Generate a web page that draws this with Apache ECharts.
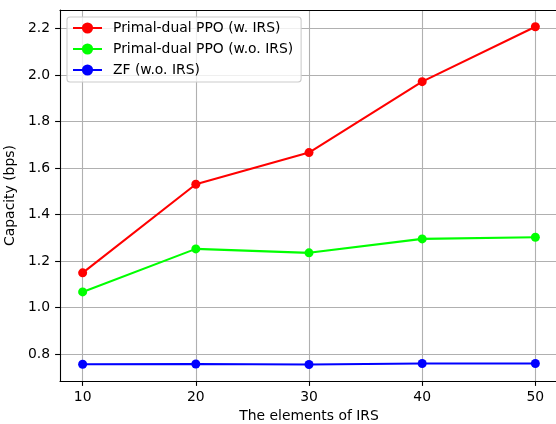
<!DOCTYPE html>
<html><head><meta charset="utf-8">
<script src="https://cdn.jsdelivr.net/npm/echarts@6/dist/echarts.min.js"></script>
<style>html,body{margin:0;padding:0;background:#fff;overflow:hidden}#c{width:556px;height:424px}</style>
</head><body><div id="c"></div>
<script>
const categories = [10, 20, 30, 40, 50];
const ppoIRS = [1.150, 1.531, 1.667, 1.972, 2.208];
const ppoNoIRS = [1.068, 1.253, 1.236, 1.296, 1.303];
const zfNoIRS = [0.757, 0.758, 0.756, 0.760, 0.760];
const xTicks = [10, 20, 30, 40, 50];
const yTicks = [0.8, 1.0, 1.2, 1.4, 1.6, 1.8, 2.0, 2.2];
const names = ['Primal-dual PPO (w. IRS)', 'Primal-dual PPO (w.o. IRS)', 'ZF (w.o. IRS)'];
const colors = ['#ff0000', '#00ff00', '#0000ff'];
const allSeries = [ppoIRS, ppoNoIRS, zfNoIRS];

const FONT = 'DejaVu Sans';
const FS = 13.9;
const chart = echarts.init(document.getElementById('c'), null, {renderer: 'canvas'});
chart.setOption({
  animation: false,
  textStyle: {fontFamily: FONT},
  grid: {left: 60, top: 10, width: 498, height: 371, containLabel: false, outerBoundsMode: 'none', show: false},
  legend: {
    orient: 'vertical', left: 67, top: 17,
    padding: [4, 8, 5, 5],
    itemWidth: 29, itemHeight: 14, itemGap: 7,
    backgroundColor: 'rgba(255,255,255,0.8)',
    borderColor: '#cccccc', borderWidth: 1.1, borderRadius: 3,
    textStyle: {fontFamily: FONT, fontSize: FS, color: '#000', padding: [0, 0, 0, 6]},
    data: names
  },
  xAxis: [{
    type: 'value', min: 8, max: 52,
    name: 'The elements of IRS', nameLocation: 'middle', nameGap: 25,
    nameTextStyle: {fontFamily: FONT, fontSize: FS, color: '#000'},
    axisLine: {show: true, lineStyle: {color: '#000', width: 1.1}},
    axisTick: {show: true, customValues: xTicks, length: 4.9, lineStyle: {color: '#000', width: 1.1}},
    axisLabel: {customValues: xTicks, margin: 9, fontFamily: FONT, fontSize: FS, color: '#000'},
    splitLine: {show: true, lineStyle: {color: '#b0b0b0', width: 1.1}}
  }, {
    type: 'value', position: 'top', min: 8, max: 52,
    axisLine: {show: true, onZero: false, lineStyle: {color: '#000', width: 1.1}},
    axisTick: {show: false}, axisLabel: {show: false}, splitLine: {show: false}
  }],
  yAxis: {
    type: 'value', min: 0.685, max: 2.28,
    name: 'Capacity (bps)', nameLocation: 'middle', nameGap: 34,
    nameTextStyle: {fontFamily: FONT, fontSize: FS, color: '#000'},
    axisLine: {show: true, lineStyle: {color: '#000', width: 1.1}},
    axisTick: {show: true, customValues: yTicks, length: 4.9, lineStyle: {color: '#000', width: 1.1}},
    axisLabel: {customValues: yTicks, margin: 10, fontFamily: FONT, fontSize: FS, color: '#000',
      formatter: v => v.toFixed(1)},
    splitLine: {show: true, lineStyle: {color: '#b0b0b0', width: 1.1}}
  },
  series: allSeries.map((d, i) => ({
    name: names[i], type: 'line', xAxisIndex: 0,
    data: categories.map((x, j) => [x, d[j]]),
    symbol: 'circle', symbolSize: 9, showSymbol: true,
    lineStyle: {color: colors[i], width: 2.08},
    itemStyle: {color: colors[i]},
    emphasis: {disabled: true}
  }))
});
</script></body></html>
